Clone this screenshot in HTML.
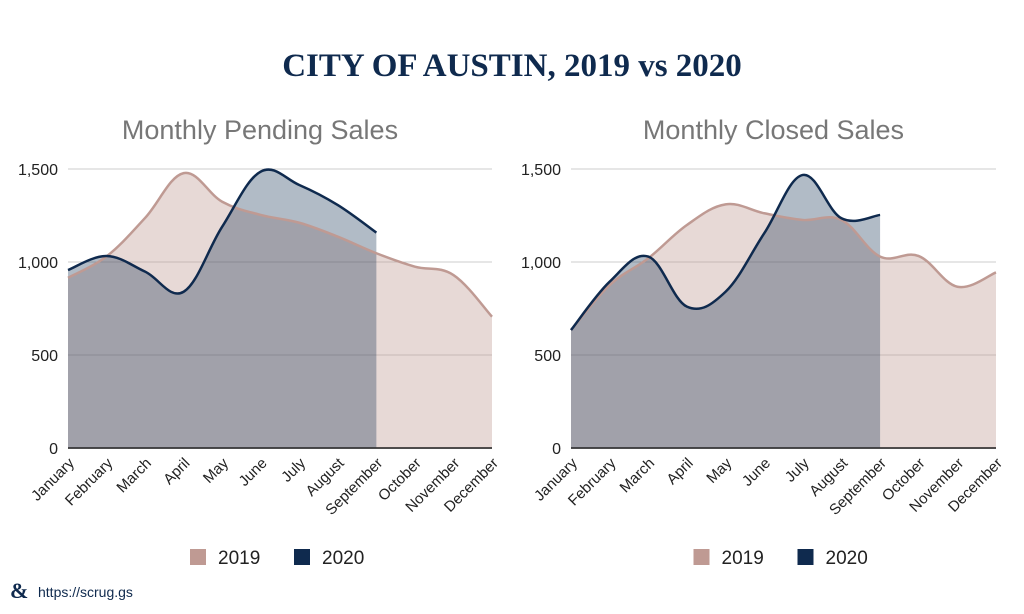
<!DOCTYPE html>
<html><head><meta charset="utf-8"><style>
body{margin:0;width:1024px;height:609px;background:#fff;overflow:hidden;font-family:"Liberation Sans",sans-serif}
</style></head><body>
<svg width="1024" height="609">
<text x="512" y="76" text-anchor="middle" font-family="Liberation Serif" font-weight="bold" font-size="33" fill="#0f2a4e">CITY OF AUSTIN, 2019 vs 2020</text>
<g id="c1"></g>
<g id="c2"></g>
<text x="10" y="598" font-family="Liberation Serif" font-weight="bold" font-size="22" fill="#0f2a4e">&amp;</text>
<text x="38" y="597" font-size="14" fill="#0f2a4e">https://scrug.gs</text>
</svg>
<script>
const months=["January","February","March","April","May","June","July","August","September","October","November","December"];
const yTicks=[0,500,1000,1500];
const yTickLabels=["0","500","1,000","1,500"];
const pending2019=[915,1030,1237,1478,1324,1253,1211,1136,1047,975,930,706];
const pending2020=[957,1032,948,840,1190,1486,1414,1306,1158];
const closed2019=[634,876,1020,1199,1310,1262,1226,1226,1029,1032,867,944];
const closed2020=[634,894,1029,760,840,1154,1468,1235,1253];
const NS="http://www.w3.org/2000/svg";
function mk(p,t,a){const e=document.createElementNS(NS,t);for(const k in a)e.setAttribute(k,a[k]);p.appendChild(e);return e;}
function smooth(pts){let d="M"+pts[0][0]+","+pts[0][1];for(let i=0;i<pts.length-1;i++){const p0=pts[i-1]||pts[i],p1=pts[i],p2=pts[i+1],p3=pts[i+2]||p2;const t=0.18;d+=` C${p1[0]+(p2[0]-p0[0])*t},${p1[1]+(p2[1]-p0[1])*t} ${p2[0]-(p3[0]-p1[0])*t},${p2[1]-(p3[1]-p1[1])*t} ${p2[0]},${p2[1]}`;}return d;}
function chart(g,title,x0,x1,a,b){
 const y0=448,y1=169;
 const xs=i=>x0+(x1-x0)*i/(months.length-1);
 const ys=v=>y0-(v/1500)*(y0-y1);
 const t=mk(g,"text",{x:(x0+x1)/2+(title.includes("Pending")?-20:-10),y:139,"text-anchor":"middle","font-size":27,fill:"#777"});t.textContent=title;
 
 
 yTicks.forEach((v,i)=>{const l=mk(g,"line",{x1:x0,x2:x1,y1:ys(v),y2:ys(v),stroke:i?"#ccc":"#333","stroke-width":i?1:1.5});
 
 
 const tx=mk(g,"text",{x:x0-10,y:ys(v)+6,"text-anchor":"end","font-size":16,fill:"#222"});tx.textContent=yTickLabels[i];
 
 });
 const pa=a.map((v,i)=>[xs(i),ys(v)]),pb=b.map((v,i)=>[xs(i),ys(v)]);
 const la=smooth(pa),lb=smooth(pb);
 const fa=mk(g,"path",{d:la+`L${pa[pa.length-1][0]},${y0}L${pa[0][0]},${y0}Z`,fill:"#bf9a93","fill-opacity":0.38});
 
 
 const fb=mk(g,"path",{d:lb+`L${pb[pb.length-1][0]},${y0}L${pb[0][0]},${y0}Z`,fill:"#0d2b4f","fill-opacity":0.32});
 
 
 const sa=mk(g,"path",{d:la,fill:"none",stroke:"#bf9a93","stroke-width":2.5});
 
 
 const sb=mk(g,"path",{d:lb,fill:"none",stroke:"#0f2a4e","stroke-width":2.5});
 
 
 mk(g,"line",{x1:x0,x2:x1,y1:y0,y2:y0,stroke:"#333","stroke-width":1.5});
 months.forEach((m,i)=>{const tx=mk(g,"text",{x:xs(i)+7,y:y0+16,"text-anchor":"end","font-size":15,fill:"#222",transform:`rotate(-45 ${xs(i)+7} ${y0+16})`});tx.textContent=m;
 
 });
 const lx=(x0+x1)/2-90;
 [["2019","#bf9a93",0],["2020","#0f2a4e",104]].forEach(([n,c,o])=>{
 const r=mk(g,"rect",{x:lx+o,y:549,width:16,height:16,fill:c});
 
 
 const tx=mk(g,"text",{x:lx+o+28,y:564,"font-size":19,fill:"#222"});tx.textContent=n;
 
 });
}
chart(document.getElementById("c1"),"Monthly Pending Sales",68,492,pending2019,pending2020);
chart(document.getElementById("c2"),"Monthly Closed Sales",571,996,closed2019,closed2020);
</script>
</body></html>
